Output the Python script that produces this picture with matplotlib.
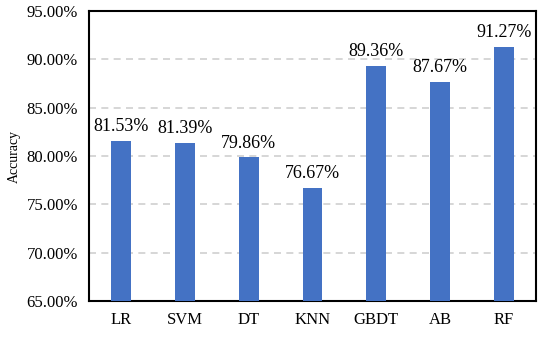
import matplotlib
matplotlib.use("Agg")
import matplotlib.pyplot as plt
from matplotlib.ticker import FuncFormatter

models = ["LR", "SVM", "DT", "KNN", "GBDT", "AB", "RF"]
accuracy = [81.53, 81.39, 79.86, 76.67, 89.36, 87.67, 91.27]

plt.rcParams["font.family"] = ["Liberation Serif", "DejaVu Serif"]

fig = plt.figure(figsize=(5.5, 3.39), dpi=100)
ax = fig.add_axes([89 / 550, 1 - 301 / 339, 447 / 550, 290 / 339])

bars = ax.bar(models, accuracy, width=0.31, color="#4472C4", zorder=3)
for b, v in zip(bars, accuracy):
    ax.text(b.get_x() + b.get_width() / 2, v + 0.6, f"{v:.2f}%",
            ha="center", va="bottom", fontsize=13)

ax.set_ylim(65, 95)
ax.set_xlim(-0.5, len(models) - 0.5)
ax.set_yticks([65, 70, 75, 80, 85, 90, 95])
ax.yaxis.set_major_formatter(FuncFormatter(lambda y, _: f"{y:.2f}%"))
ax.grid(axis="y", color="#d0d0d0", linestyle=(0, (4.2, 3.2)), linewidth=1.2, zorder=0)
ax.tick_params(axis="both", length=0, labelsize=12, pad=8)
ax.set_ylabel("Accuracy", fontsize=10)
for s in ax.spines.values():
    s.set_linewidth(1.5)
    s.set_color("black")

fig.savefig("out.png", dpi=100)
